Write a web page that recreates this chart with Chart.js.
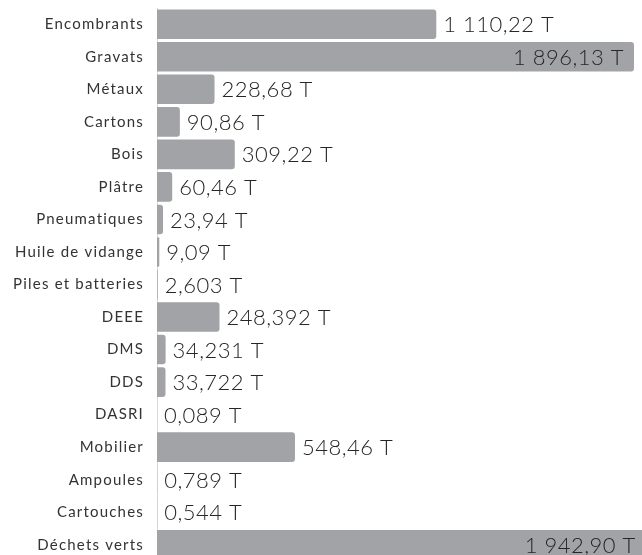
<!DOCTYPE html>
<html>
<head>
<meta charset="utf-8">
<script src="https://cdn.jsdelivr.net/npm/chart.js@4/dist/chart.umd.min.js"></script>
<style>
  html, body { margin: 0; padding: 0; background: #fff; overflow: hidden; }
  #wrap { position: relative; width: 642px; height: 561px; }
</style>
</head>
<body>
<div id="wrap"><canvas id="dechets"></canvas></div>
<script>
const categories = ['Encombrants', 'Gravats', 'Métaux', 'Cartons', 'Bois', 'Plâtre', 'Pneumatiques',
  'Huile de vidange', 'Piles et batteries', 'DEEE', 'DMS', 'DDS', 'DASRI', 'Mobilier',
  'Ampoules', 'Cartouches', 'Déchets verts'];
const tonnages = [1110.22, 1896.13, 228.68, 90.86, 309.22, 60.46, 23.94, 9.09, 2.603, 248.392,
  34.231, 33.722, 0.089, 548.46, 0.789, 0.544, 1942.90];
const decimales = [2, 2, 2, 2, 2, 2, 2, 2, 3, 3, 3, 3, 3, 2, 3, 3, 2];
const xMax = 1928;

const FONT = 'Lato, "DejaVu Sans", sans-serif';

function formatTonne(v, d) {
  // format français : espace pour les milliers, virgule décimale
  const parts = v.toFixed(d).split('.');
  const ent = parts[0].replace(/\B(?=(\d{3})+(?!\d))/g, ' ');
  return ent + ',' + parts[1] + ' T';
}

// police plus large (approche de la police d'origine)
const espacement = {
  id: 'espacement',
  beforeDraw(chart) { chart.ctx.letterSpacing = '1.2px'; },
  afterDraw(chart) { chart.ctx.letterSpacing = '0px'; }
};

// etiquettes de valeur au bout des barres
const etiquettes = {
  id: 'etiquettes',
  afterDatasetsDraw(chart) {
    const ctx = chart.ctx;
    const area = chart.chartArea;
    const meta = chart.getDatasetMeta(0);
    ctx.save();
    ctx.letterSpacing = '0.5px';
    ctx.font = '300 22px ' + FONT;
    ctx.fillStyle = '#262626';
    ctx.textBaseline = 'middle';
    meta.data.forEach((bar, i) => {
      const txt = formatTonne(tonnages[i], decimales[i]);
      const w = ctx.measureText(txt).width;
      if (bar.x + 7 + w > area.right) {
        ctx.textAlign = 'right';
        ctx.fillText(txt, bar.x - 10, bar.y + 1);
      } else {
        ctx.textAlign = 'left';
        ctx.fillText(txt, bar.x + 7, bar.y + 1);
      }
    });
    ctx.restore();
  }
};

new Chart(document.getElementById('dechets'), {
  type: 'bar',
  data: {
    labels: categories,
    datasets: [{
      data: tonnages,
      backgroundColor: '#a2a3a7',
      borderRadius: 3,
      barPercentage: 1,
      categoryPercentage: 0.91
    }]
  },
  options: {
    indexAxis: 'y',
    responsive: true,
    maintainAspectRatio: false,
    animation: false,
    layout: { padding: { top: 8, right: 0, bottom: 0, left: 0 } },
    plugins: {
      legend: { display: false },
      tooltip: { enabled: false }
    },
    scales: {
      x: {
        display: false,
        min: 0,
        max: xMax
      },
      y: {
        grid: { display: false, drawTicks: false },
        border: { display: true, color: '#dcdcdc', width: 1 },
        ticks: {
          color: '#333',
          font: { family: FONT, size: 15 },
          padding: 13
        },
        afterFit(scale) {
          scale.width = 157;
          scale.paddingTop = 0;
          scale.paddingBottom = 0;
        }
      }
    }
  },
  plugins: [espacement, etiquettes]
});
</script>
</body>
</html>
